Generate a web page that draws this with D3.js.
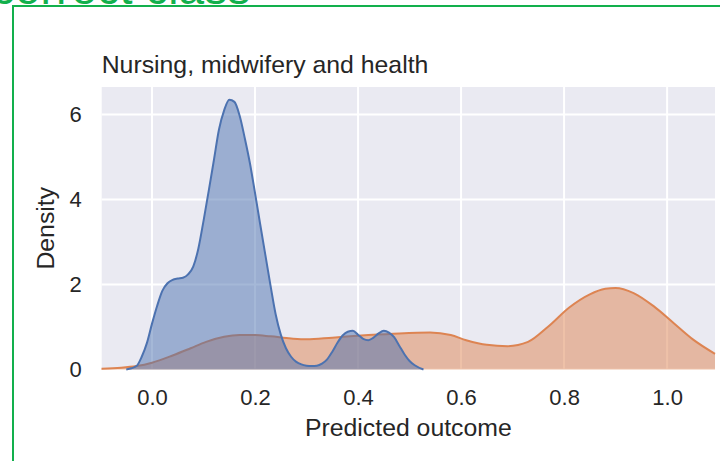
<!DOCTYPE html>
<html>
<head>
<meta charset="utf-8">
<script src="https://cdn.jsdelivr.net/npm/d3@7"></script>
<style>
  body { margin: 0; background: #fff; }
  svg { display: block; font-family: "Liberation Sans", Arial, sans-serif; }
</style>
</head>
<body>
<svg id="chart" width="720" height="461"></svg>
<script>
// density curves (x = predicted outcome, y = density)
var blueX = [-0.05, -0.04, -0.03, -0.02, -0.01, 0, 0.01, 0.02, 0.03, 0.04, 0.05, 0.06, 0.07, 0.08, 0.09,
  0.1, 0.11, 0.12, 0.13, 0.14, 0.15, 0.16, 0.17, 0.18, 0.19, 0.2, 0.21, 0.22, 0.23, 0.24, 0.25, 0.26, 0.27, 0.28,
  0.29, 0.3, 0.31, 0.32, 0.33, 0.34, 0.35, 0.36, 0.37, 0.38, 0.39, 0.4, 0.41, 0.42, 0.43, 0.44, 0.45, 0.46, 0.47,
  0.48, 0.49, 0.5, 0.51, 0.527];
var blueY = [0, 0.03, 0.08, 0.3, 0.62, 1.08, 1.5, 1.85, 2.03, 2.11, 2.14, 2.16, 2.24, 2.42, 2.85,
  3.5, 4.2, 4.92, 5.65, 6.1, 6.35, 6.3, 5.98, 5.45, 4.86, 4.15, 3.42, 2.7, 1.98, 1.3, 0.82, 0.5, 0.3, 0.18,
  0.12, 0.09, 0.08, 0.09, 0.14, 0.24, 0.42, 0.63, 0.8, 0.89, 0.91, 0.82, 0.72, 0.69, 0.75, 0.85, 0.91, 0.87, 0.76,
  0.56, 0.36, 0.2, 0.1, 0];

var orangeX = [-0.098, -0.06, -0.03, 0, 0.04, 0.075, 0.105, 0.14, 0.17, 0.2, 0.23, 0.27, 0.3, 0.35, 0.42, 0.48,
  0.54, 0.58, 0.61, 0.65, 0.69, 0.73, 0.77, 0.81, 0.85, 0.88, 0.9, 0.935, 0.975, 1.013, 1.05, 1.093];
var orangeY = [0.02, 0.04, 0.08, 0.16, 0.33, 0.5, 0.65, 0.77, 0.81, 0.81, 0.78, 0.73, 0.71, 0.75, 0.81, 0.85,
  0.87, 0.81, 0.69, 0.58, 0.55, 0.65, 1.02, 1.46, 1.77, 1.9, 1.92, 1.8, 1.48, 1.09, 0.71, 0.37];

var xTicks = [0, 0.2, 0.4, 0.6, 0.8, 1.0];
var yTicks = [0, 2, 4, 6];

var titleText = 'Nursing, midwifery and health';
var xLabel = 'Predicted outcome';
var yLabel = 'Density';

var svg = d3.select('#chart');
// plot box in pixels (don't call these top/left, window.top is read-only)
var plotL = 101.7, plotR = 715, plotT = 87, plotB = 369.5;
var textColor = '#262626';

// green frame and cut-off heading from the surrounding figure
svg.append('text')
    .attr('x', -8)
    .attr('y', 4)
    .attr('fill', '#12b04c')
    .style('font-size', '46px')
    .text('correct class');
svg.append('rect')
    .attr('x', 13)
    .attr('y', 6)
    .attr('width', 720)
    .attr('height', 470)
    .attr('fill', 'none')
    .attr('stroke', '#12b04c')
    .attr('stroke-width', 2);

var x = d3.scaleLinear().domain([-0.0977, 1.093]).range([plotL, plotR]);
var y = d3.scaleLinear().domain([0, 6.65]).range([plotB, plotT]);

svg.append('rect')
    .attr('x', plotL)
    .attr('y', plotT)
    .attr('width', plotR - plotL)
    .attr('height', plotB - plotT)
    .attr('fill', '#eaeaf2');

// grid
svg.append('g').selectAll('line')
    .data(xTicks).join('line')
    .attr('x1', d => x(d)).attr('x2', d => x(d))
    .attr('y1', plotT).attr('y2', plotB)
    .attr('stroke', '#fff').attr('stroke-width', 2);
svg.append('g').selectAll('line')
    .data(yTicks).join('line')
    .attr('x1', plotL).attr('x2', plotR)
    .attr('y1', d => y(d)).attr('y2', d => y(d))
    .attr('stroke', '#fff').attr('stroke-width', 2);

function drawKde(xs, ys, color) {
    var pts = xs.map((v, i) => [v, ys[i]]);
    var area = d3.area()
        .x(d => x(d[0]))
        .y0(y(0))
        .y1(d => y(d[1]))
        .curve(d3.curveMonotoneX);
    var line = d3.line()
        .x(d => x(d[0]))
        .y(d => y(d[1]))
        .curve(d3.curveMonotoneX);
    svg.append('path')
        .datum(pts)
        .attr('d', area)
        .attr('fill', color)
        .attr('fill-opacity', 0.5);
    svg.append('path')
        .datum(pts)
        .attr('d', line)
        .attr('fill', 'none')
        .attr('stroke', color)
        .attr('stroke-width', 2);
}

drawKde(orangeX, orangeY, '#dd8452');
drawKde(blueX, blueY, '#4c72b0');

// axes: labels only, no ticks or spines
var xAxis = svg.append('g')
    .attr('transform', 'translate(0,' + plotB + ')')
    .call(d3.axisBottom(x).tickValues(xTicks).tickFormat(d3.format('.1f')).tickSize(0).tickPadding(20));
var yAxis = svg.append('g')
    .attr('transform', 'translate(' + plotL + ',0)')
    .call(d3.axisLeft(y).tickValues(yTicks).tickFormat(d3.format('d')).tickSize(0).tickPadding(20));
[xAxis, yAxis].forEach(function (g) {
    g.select('.domain').remove();
    g.selectAll('text')
        .attr('fill', textColor)
        .style('font-size', '22px')
        .style('font-family', '"Liberation Sans", Arial, sans-serif');
});

svg.append('text')
    .attr('x', plotL)
    .attr('y', 72.7)
    .attr('fill', textColor)
    .style('font-size', '24.8px')
    .text(titleText);

svg.append('text')
    .attr('x', (plotL + plotR) / 2)
    .attr('y', 436)
    .attr('text-anchor', 'middle')
    .attr('fill', textColor)
    .style('font-size', '24.8px')
    .text(xLabel);

svg.append('text')
    .attr('transform', 'translate(54,' + (plotT + plotB) / 2 + ') rotate(-90)')
    .attr('text-anchor', 'middle')
    .attr('fill', textColor)
    .style('font-size', '24.8px')
    .text(yLabel);
</script>
</body>
</html>
